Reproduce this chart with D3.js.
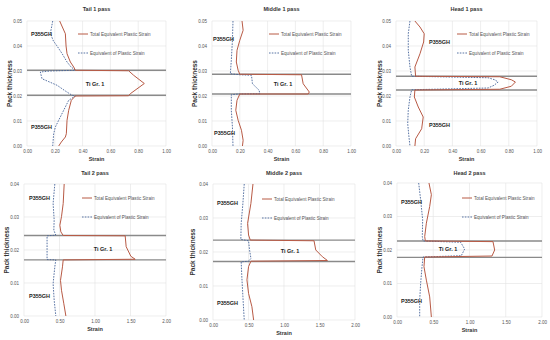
<!DOCTYPE html>
<html lang="en">
<head>
<meta charset="utf-8">
<title>Strain through pack thickness</title>
<script src="https://cdn.jsdelivr.net/npm/d3@7"></script>
<style>
  body { margin: 0; background: #fff; }
  svg { font-family: "Liberation Sans", Arial, sans-serif; }
</style>
</head>
<body>
<script>
// panel titles, in drawing order
var titles = ["Tail 1 pass", "Middle 1 pass", "Head 1 pass",
              "Tail 2 pass", "Middle 2 pass", "Head 2 pass"];

// tick values
var xTicks1 = [0, 0.2, 0.4, 0.6, 0.8, 1.0];
var yTicks1 = [0, 0.01, 0.02, 0.03, 0.04, 0.05];
var xTicks2 = [0, 0.5, 1.0, 1.5, 2.0];
var yTicks2 = [0, 0.01, 0.02, 0.03, 0.04];

// Ti / steel interface thickness [lower, upper]
var interfaces = [[0.0203, 0.0303], [0.0208, 0.0287], [0.0224, 0.0279],
                  [0.0170, 0.0244], [0.0172, 0.0235], [0.0178, 0.0227]];

// curves as [strain, thickness]
var tail1Total = [[0.235,0.050],[0.276,0.0449],[0.281,0.040],[0.288,0.0369],[0.312,0.0336],[0.336,0.0316],[0.348,0.0303],
  [0.731,0.0301],[0.767,0.0283],[0.844,0.025],[0.743,0.0209],[0.731,0.0201],[0.348,0.020],
  [0.319,0.0183],[0.300,0.0143],[0.288,0.0103],[0.283,0.0049],[0.276,0.0036],[0.247,0.0016],[0.228,0.0]];
var tail1Equiv = [[0.185,0.050],[0.168,0.045],[0.190,0.042],[0.216,0.040],[0.252,0.037],[0.288,0.0336],[0.317,0.0316],[0.348,0.0303],
  [0.168,0.0300],[0.096,0.0296],[0.108,0.0269],[0.216,0.0243],[0.276,0.022],[0.324,0.0203],[0.348,0.020],
  [0.300,0.0183],[0.264,0.0143],[0.228,0.0103],[0.204,0.0076],[0.192,0.0049],[0.185,0.0]];

var middle1Total = [[0.216,0.050],[0.224,0.0463],[0.200,0.0423],[0.180,0.0383],[0.175,0.0336],[0.188,0.0303],[0.200,0.0287],
  [0.644,0.0285],[0.656,0.0249],[0.700,0.0216],[0.692,0.0208],[0.200,0.0208],
  [0.180,0.0183],[0.171,0.0143],[0.188,0.0103],[0.212,0.0063],[0.224,0.0023],[0.219,0.0]];
var middle1Equiv = [[0.151,0.050],[0.147,0.0423],[0.139,0.0343],[0.132,0.0289],[0.200,0.0285],
  [0.284,0.0283],[0.291,0.0249],[0.339,0.0223],[0.344,0.0209],[0.188,0.0208],[0.139,0.0205],
  [0.139,0.0143],[0.147,0.0076],[0.151,0.0]];

var head1Total = [[0.134,0.050],[0.170,0.0476],[0.200,0.0449],[0.196,0.0416],[0.170,0.0369],[0.134,0.0316],[0.139,0.0279],
  [0.736,0.0277],[0.818,0.0265],[0.847,0.0256],[0.818,0.0239],[0.736,0.0227],[0.134,0.0224],
  [0.130,0.0196],[0.158,0.0156],[0.193,0.0116],[0.182,0.0069],[0.139,0.0029],[0.134,0.0]];
var head1Equiv = [[0.099,0.050],[0.087,0.0449],[0.087,0.0383],[0.099,0.0316],[0.111,0.0279],
  [0.653,0.0273],[0.700,0.0265],[0.724,0.0256],[0.696,0.0243],[0.653,0.0232],[0.111,0.0225],
  [0.099,0.0196],[0.087,0.0143],[0.083,0.0089],[0.092,0.0036],[0.099,0.0]];

var tail2Total = [[0.566,0.040],[0.552,0.0341],[0.528,0.0301],[0.505,0.0275],[0.519,0.0255],[0.552,0.0244],
  [1.425,0.0243],[1.439,0.021],[1.505,0.0181],[1.566,0.0172],[0.552,0.0170],
  [0.542,0.0149],[0.514,0.0108],[0.528,0.0078],[0.561,0.0037],[0.590,0.0]];
var tail2Equiv = [[0.434,0.040],[0.410,0.0341],[0.425,0.0291],[0.420,0.026],[0.448,0.0245],
  [0.325,0.0243],[0.325,0.0171],[0.448,0.0170],
  [0.434,0.0149],[0.410,0.0098],[0.425,0.0048],[0.448,0.0]];

var middle2Total = [[0.563,0.040],[0.534,0.0343],[0.487,0.0284],[0.501,0.025],[0.525,0.0235],
  [1.423,0.0233],[1.447,0.0206],[1.541,0.0186],[1.612,0.0175],[0.534,0.0173],
  [0.501,0.0157],[0.478,0.0118],[0.501,0.0078],[0.548,0.0039],[0.572,0.0]];
var middle2Equiv = [[0.440,0.040],[0.421,0.0343],[0.397,0.0284],[0.392,0.0237],[0.501,0.0233],
  [0.515,0.0206],[0.534,0.0181],[0.501,0.0173],[0.397,0.0171],
  [0.406,0.0127],[0.421,0.0069],[0.440,0.0]];

var head2Total = [[0.441,0.040],[0.474,0.0365],[0.451,0.033],[0.405,0.028],[0.382,0.024],[0.391,0.0227],
  [1.324,0.0225],[1.347,0.020],[1.310,0.0182],[0.382,0.0179],
  [0.372,0.015],[0.405,0.011],[0.451,0.006],[0.474,0.0]];
var head2Equiv = [[0.299,0.040],[0.326,0.035],[0.354,0.029],[0.349,0.024],[0.359,0.0227],
  [0.878,0.0223],[0.933,0.0203],[0.887,0.0183],[0.359,0.0179],
  [0.345,0.015],[0.326,0.010],[0.313,0.005],[0.313,0.0]];

var totals = [tail1Total, middle1Total, head1Total, tail2Total, middle2Total, head2Total];
var equivs = [tail1Equiv, middle1Equiv, head1Equiv, tail2Equiv, middle2Equiv, head2Equiv];

// layout of each panel (pixel boxes)
var boxes = [
  {l: 27,  r: 166, t: 21,  b: 146, ylab: 10,  titleY: 9},
  {l: 212, r: 351, t: 21,  b: 146, ylab: 195, titleY: 9},
  {l: 396, r: 537, t: 21,  b: 146, ylab: 380, titleY: 9},
  {l: 24,  r: 166, t: 184, b: 316, ylab: 7,   titleY: 173},
  {l: 213, r: 355, t: 184, b: 320, ylab: 193, titleY: 173},
  {l: 397, r: 542, t: 183, b: 317, ylab: 380, titleY: 173}
];
// label positions (pixel offsets from panel left/top)
var labels = [
  {steelTop: [4, 13], steelBot: [4, 106], ti: [68, 63], legend: [51, 13]},
  {steelTop: [1, 18], steelBot: [2, 112], ti: [71, 63], legend: [57, 13]},
  {steelTop: [33, 21], steelBot: [33, 104], ti: [72, 62], legend: [61, 13]},
  {steelTop: [5, 14], steelBot: [5, 112], ti: [79, 65], legend: [58, 14]},
  {steelTop: [4, 19], steelBot: [4, 119], ti: [77, 67], legend: [49, 15]},
  {steelTop: [4, 19], steelBot: [4, 118], ti: [51, 66], legend: [65, 15]}
];

var red = "#b85a45";
var blue = "#46649a";

var svg = d3.select("body").append("svg")
    .attr("width", 550)
    .attr("height", 340);

boxes.forEach(function(bx, i) {
    var firstRow = i < 3;
    var xTicks = firstRow ? xTicks1 : xTicks2;
    var yTicks = firstRow ? yTicks1 : yTicks2;

    var x = d3.scaleLinear().domain([0, firstRow ? 1 : 2]).range([bx.l, bx.r]);
    var y = d3.scaleLinear().domain([0, firstRow ? 0.05 : 0.04]).range([bx.b, bx.t]);

    var g = svg.append("g");

    // grid
    g.selectAll(".vg").data(xTicks).enter().append("line")
        .attr("x1", function(d) { return x(d); })
        .attr("x2", function(d) { return x(d); })
        .attr("y1", bx.t).attr("y2", bx.b)
        .attr("stroke", "#e3e3e3").attr("stroke-width", 0.6);
    g.selectAll(".hg").data(yTicks).enter().append("line")
        .attr("x1", bx.l).attr("x2", bx.r)
        .attr("y1", function(d) { return y(d); })
        .attr("y2", function(d) { return y(d); })
        .attr("stroke", "#e3e3e3").attr("stroke-width", 0.6);

    // axes (labels only)
    var xAxis = d3.axisBottom(x).tickValues(xTicks).tickFormat(d3.format(".2f")).tickSize(0).tickPadding(4);
    var yAxis = d3.axisLeft(y).tickValues(yTicks).tickFormat(d3.format(".2f")).tickSize(0).tickPadding(5);
    var xa = g.append("g").attr("transform", "translate(0," + bx.b + ")").call(xAxis);
    var ya = g.append("g").attr("transform", "translate(" + bx.l + ",0)").call(yAxis);
    [xa, ya].forEach(function(a) {
        a.select(".domain").remove();
        a.selectAll("text").attr("font-size", 4.5).attr("fill", "#555").attr("font-family", "Liberation Sans, Arial, sans-serif");
    });

    // interface lines
    g.selectAll(".intf").data(interfaces[i]).enter().append("line")
        .attr("x1", bx.l).attr("x2", bx.r)
        .attr("y1", function(d) { return y(d); })
        .attr("y2", function(d) { return y(d); })
        .attr("stroke", "#8a8a8a").attr("stroke-width", 1.4);

    var line = d3.line()
        .x(function(d) { return x(d[0]); })
        .y(function(d) { return y(d[1]); });

    g.append("path").datum(equivs[i])
        .attr("d", line).attr("fill", "none")
        .attr("stroke", blue).attr("stroke-width", 0.9)
        .attr("stroke-dasharray", "1.6,1.2");
    g.append("path").datum(totals[i])
        .attr("d", line).attr("fill", "none")
        .attr("stroke", red).attr("stroke-width", 1);

    // title and axis labels
    g.append("text").attr("x", (bx.l + bx.r) / 2).attr("y", bx.titleY + 2)
        .attr("text-anchor", "middle").attr("font-size", 5.5).attr("font-weight", "bold")
        .attr("fill", "#333").text(titles[i]);
    g.append("text").attr("x", (bx.l + bx.r) / 2).attr("y", bx.b + 15)
        .attr("text-anchor", "middle").attr("font-size", 5.5).attr("font-weight", "bold")
        .attr("fill", "#333").text("Strain");
    g.append("text")
        .attr("transform", "translate(" + (bx.ylab + 2) + "," + ((bx.t + bx.b) / 2) + ") rotate(-90)")
        .attr("text-anchor", "middle").attr("font-size", 6.5).attr("font-weight", "bold")
        .attr("fill", "#333").text("Pack thickness");

    // material labels
    var lb = labels[i];
    [lb.steelTop, lb.steelBot].forEach(function(p) {
        g.append("text").attr("x", bx.l + p[0]).attr("y", bx.t + p[1] + 2)
            .attr("font-size", 5.5).attr("font-weight", "bold").attr("fill", "#222").text("P355GH");
    });
    g.append("text").attr("x", bx.l + lb.ti[0]).attr("y", bx.t + lb.ti[1] + 2)
        .attr("text-anchor", "middle").attr("font-size", 5.5).attr("font-weight", "bold")
        .attr("fill", "#222").text("Ti Gr. 1");

    // legend
    var lx = bx.l + lb.legend[0], ly = bx.t + lb.legend[1];
    g.append("line").attr("x1", lx).attr("x2", lx + 10).attr("y1", ly).attr("y2", ly)
        .attr("stroke", red).attr("stroke-width", 1);
    g.append("text").attr("x", lx + 12).attr("y", ly + 1.6).attr("font-size", 4.6)
        .attr("fill", "#555").text("Total Equivalent Plastic Strain");
    g.append("line").attr("x1", lx).attr("x2", lx + 10).attr("y1", ly + 19).attr("y2", ly + 19)
        .attr("stroke", blue).attr("stroke-width", 0.9).attr("stroke-dasharray", "1.6,1.2");
    g.append("text").attr("x", lx + 12).attr("y", ly + 20.6).attr("font-size", 4.6)
        .attr("fill", "#555").text("Equivalent of Plastic Strain");
});
</script>
</body>
</html>
